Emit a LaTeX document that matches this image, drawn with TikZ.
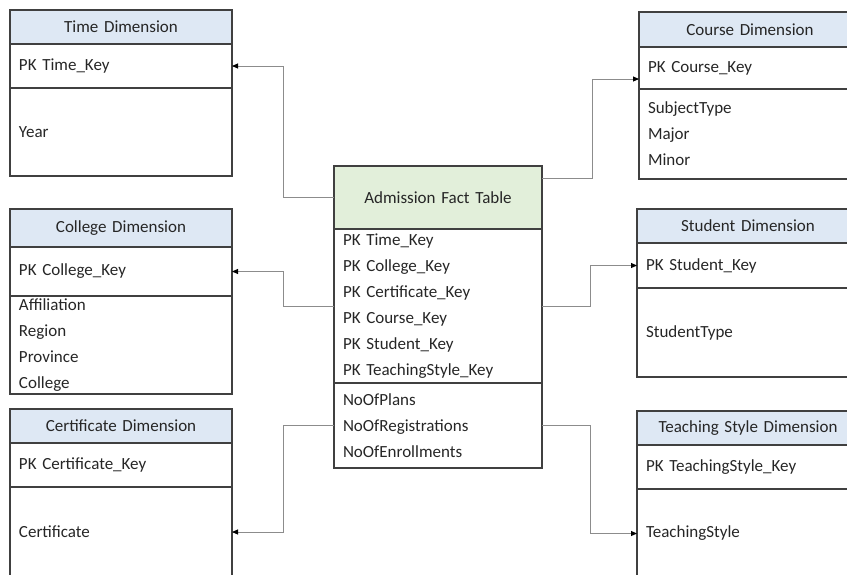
\documentclass[tikz,border=0pt]{standalone}
\usepackage{fontspec}
\setmainfont{Carlito}
\usetikzlibrary{positioning,arrows.meta,calc}
\definecolor{boxline}{HTML}{404040}
\definecolor{dimblue}{HTML}{DEE8F4}
\definecolor{factgreen}{HTML}{E2EFDA}
\definecolor{linkgray}{HTML}{8C8C8C}
\tikzset{
	part/.style={draw=boxline, line width=1.1pt, outer sep=0pt, inner xsep=9pt, inner ysep=0pt,
		align=left, text width=204pt, text=black!85, font=\fontsize{17}{26}\selectfont},
	dimhead/.style={part, fill=dimblue, align=center},
	facthead/.style={part, fill=factgreen, align=center, text width=190pt},
	factpart/.style={part, text width=190pt},
	link/.style={draw=linkgray, line width=0.9pt, -{Triangle[length=6pt,width=5pt,color=black]}}
}

\begin{document}
\begin{tikzpicture}[x=1pt, y=-1pt]
		%%%%% START %%%%%
		\useasboundingbox (0,0) rectangle (847,574);
		\clip (0,0) rectangle (847,574);
		
		% time
		\node[dimhead, minimum height=34pt, anchor=north west] (time-h) at (10,10) {Time Dimension};
		\node[part, minimum height=44pt, below=0pt of time-h] (time-pk) {PK Time\_Key};
		\node[part, minimum height=88pt, below=0pt of time-pk] (time-rest) {Year};
		
		% college
		\node[dimhead, minimum height=38pt, anchor=north west] (college-h) at (10,209) {College Dimension};
		\node[part, minimum height=49pt, below=0pt of college-h] (college-pk) {PK College\_Key};
		\node[part, minimum height=98pt, below=0pt of college-pk] (college-rest) {Affiliation\\Region\\Province\\College};
		
		% certificate
		\node[dimhead, minimum height=34pt, anchor=north west] (cert-h) at (10,409) {Certificate Dimension};
		\node[part, minimum height=44pt, below=0pt of cert-h] (cert-pk) {PK Certificate\_Key};
		\node[part, minimum height=90pt, below=0pt of cert-pk] (cert-rest) {Certificate};
		
		% fact table
		\node[facthead, minimum height=63pt, anchor=north west] (fact-h) at (334,166) {Admission Fact Table};
		\node[factpart, minimum height=154pt, below=0pt of fact-h] (fact-keys) {PK Time\_Key\\PK College\_Key\\PK Certificate\_Key\\PK Course\_Key\\PK Student\_Key\\PK TeachingStyle\_Key};
		\node[factpart, minimum height=85pt, below=0pt of fact-keys] (fact-meas) {NoOfPlans\\NoOfRegistrations\\NoOfEnrollments};
		\coordinate (fact-out) at ($(fact-h.north east)!0.2!(fact-h.south east)$);
		
		% course
		\node[dimhead, minimum height=35pt, anchor=north west] (course-h) at (639,12) {Course Dimension};
		\node[part, minimum height=42pt, below=0pt of course-h] (course-pk) {PK Course\_Key};
		\node[part, minimum height=90pt, below=0pt of course-pk] (course-rest) {SubjectType\\Major\\Minor};
		
		% student
		\node[dimhead, minimum height=34pt, anchor=north west] (student-h) at (637,209) {Student Dimension};
		\node[part, minimum height=45pt, below=0pt of student-h] (student-pk) {PK Student\_Key};
		\node[part, minimum height=89pt, below=0pt of student-pk] (student-rest) {StudentType};
		
		% teaching style
		\node[dimhead, minimum height=34pt, anchor=north west] (teach-h) at (637,411) {Teaching Style Dimension};
		\node[part, minimum height=44pt, below=0pt of teach-h] (teach-pk) {PK TeachingStyle\_Key};
		\node[part, minimum height=89pt, below=0pt of teach-pk] (teach-rest) {TeachingStyle};
		
		% links
		\draw[link] (fact-h.west) -- ++(-51,0) |- (time-pk.east);
		\draw[link] (fact-keys.west) -- ++(-51,0) |- (college-pk.east);
		\draw[link] (fact-meas.west) -- ++(-51,0) |- (cert-rest.east);
		\draw[link] (fact-out) -- ++(50,0) |- ([yshift=-11pt]course-pk.west);
		\draw[link] (fact-keys.east) -- ++(48,0) |- (student-pk.west);
		\draw[link] (fact-meas.east) -- ++(48,0) |- (teach-rest.west);
		
		%%%%% END %%%%%
	\end{tikzpicture}
\end{document}
